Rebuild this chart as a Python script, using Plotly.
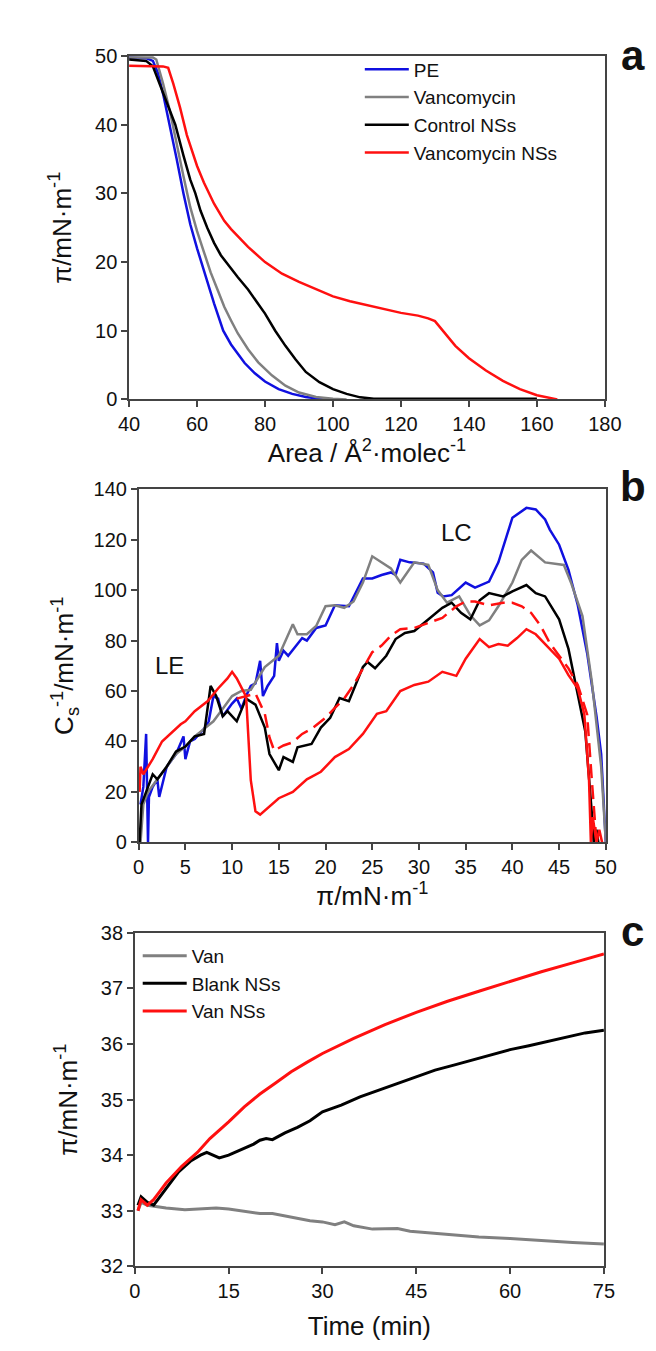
import plotly.graph_objects as go

# ---- panel a: pi-A isotherms ----
pe_area = [40, 45, 47, 48.5, 50, 52, 54, 56, 58, 60, 61.2, 63, 65, 67.7, 70, 74, 77, 80, 84, 88, 92, 96, 100]
pe_pi = [49.8, 49.7, 49.3, 47.5, 44.5, 40, 35, 30, 25.5, 22, 20, 17, 14, 10, 8, 5.3, 3.8, 2.6, 1.5, 0.8, 0.35, 0.1, 0]

van_area = [40, 47, 48, 50, 52, 54, 56, 58, 60, 62, 64, 66, 68, 70, 72, 75, 78, 82, 86, 90, 95, 100, 104]
van_pi = [49.8, 49.8, 49.5, 46, 42, 37, 32.5, 28, 24.5, 21.5, 18.5, 16, 13.5, 11.5, 9.6, 7.3, 5.4, 3.5, 2, 1, 0.35, 0.1, 0]

ctl_area = [40, 45, 47, 49, 51, 53.6, 56, 58, 59.5, 61, 63, 65, 67, 69, 72, 75, 78, 80, 83, 86, 89, 92, 96, 100, 104, 108, 112, 160]
ctl_pi = [49.5, 49.3, 48.5, 46, 43.5, 40, 35.5, 32, 30, 27.5, 25, 22.8, 21, 19.7, 17.8, 16, 14, 12.5, 10, 7.8, 5.8, 4, 2.5, 1.5, 0.8, 0.3, 0.1, 0.1]

vns_area = [40, 50, 51.5, 53, 55, 57, 60, 62, 65, 68, 70, 75, 80, 85, 90, 95, 100, 105, 110, 115, 120, 125, 128, 130,
            133, 136, 140, 145, 150, 155, 160, 166]
vns_pi = [48.6, 48.5, 48.3, 46, 42.5, 38.5, 34, 31.6, 28.5, 26, 24.8, 22.2, 20, 18.3, 17.1, 16, 15, 14.3, 13.7, 13.2,
          12.6, 12.2, 11.8, 11.4, 9.6, 7.8, 6, 4.2, 2.7, 1.5, 0.6, 0]

# ---- panel b: compressional modulus ----
pe_bx = [0.2, 0.5, 0.8, 0.9, 1.0, 1.1, 1.5, 2, 2.2, 3, 4, 4.8, 5, 5.5, 6, 7, 7.5, 8, 8.5, 9, 10, 10.5, 11, 11.5, 12,
         12.5, 13, 13.3, 13.8, 14.5, 14.8, 15, 15.5, 16, 17.5, 18, 19, 20, 21, 22.5, 23.5, 24, 25, 26, 27, 27.5, 28, 29,
         30.5, 31.5, 32, 32.6, 33.5, 35, 36, 37.5, 38.5, 40, 41.5, 42.5, 43.5, 44, 45, 46, 47, 48, 49, 49.5, 50]
pe_by = [15, 22, 43, 20, 0, 18, 22, 25, 18, 30, 35, 42, 33, 40, 41, 45, 48, 58, 57, 50, 55, 57, 53, 58, 62,
         63, 72, 58, 62, 66, 79, 72, 76, 74, 81, 80, 85, 86, 94, 93.6, 101, 104.6, 104.6, 106, 107, 106, 112, 111,
         110.5, 107, 99, 97.5, 98, 103, 101, 103.4, 111, 128.7, 132.6, 132, 128, 124, 118, 108, 94, 75, 50, 35, 0]

van_bx = [0.2, 0.5, 1, 2, 3, 4, 5, 6, 7, 8, 9, 10, 11, 12, 13.5, 15, 16.5, 17, 18, 19, 20, 21, 22, 23, 24, 25, 27,
          28, 29.5, 31, 32, 33, 34.3, 35.5, 36.5, 37.5, 38.5, 40, 41, 42, 43.5, 45.5, 46.3, 47.5, 48.5, 49.5, 50]
van_by = [0, 15, 20, 25, 30, 35, 38, 42, 45, 48, 53, 58, 60, 60.5, 69.5, 74, 86.5, 82.5, 82.5, 85.8, 93.6, 94, 93,
          95.5, 103, 113.4, 108.6, 103, 111, 110, 100, 95, 97.5, 90, 86, 88, 93.6, 103, 112, 115.7, 111, 110, 102.7,
          89.7, 63.7, 30, 0]

ctl_bx = [0.1, 0.3, 1, 1.5, 2, 3, 4, 5, 6, 7, 7.7, 8.3, 9, 9.5, 10.5, 11.5, 12.5, 13.5, 14, 14.5, 15, 15.5, 16.5,
          17, 18.5, 19.5, 20.5, 21.5, 22.5, 24, 24.5, 25.3, 26.5, 27.5, 28.5, 29.5, 31, 32.5, 33.5, 34.5, 35.5, 36.5,
          37.5, 39, 40, 41.5, 42.5, 43.5, 45, 46, 47, 47.8, 48.5, 48.7, 49, 49.2]
ctl_by = [0, 15, 22, 27, 25, 30, 36, 38, 42, 43, 62, 58, 50, 52, 48, 57, 54.6, 45.5, 35, 32, 28.6, 33.8, 31.9,
          37.7, 39, 45.5, 49.4, 57.2, 56, 69.5, 71.5, 69, 74, 80.6, 83, 83.8, 88.4, 93, 95, 91, 88.4, 96,
          98.8, 97.5, 99.5, 102, 98.8, 97.5, 88.4, 76.7, 58.5, 44, 11.7, 0, 5, 0]

vns_bx = [0.1, 0.2, 0.5, 1, 1.5, 2.5, 3.5, 4.5, 5, 6, 7.4, 8.5, 9.5, 10, 10.5, 11.5, 12, 12.5, 13, 14, 15, 16.5, 18,
          19.5, 21, 22.5, 24, 25.5, 26.5, 28, 29.5, 31, 32.5, 34, 35, 36.5, 37.5, 38.5, 39.5, 40.5, 41.5, 42.5, 44, 45,
          46, 47, 47.7, 48.2, 48.4, 48.6, 49, 49.3, 49.6]
vns_by = [20, 30, 27, 30, 33, 40, 43.5, 46.8, 48, 52, 56, 61, 65, 67.6, 65, 57.8, 24.7, 12.3, 11, 14.3, 17.5, 20, 25,
          28, 33.8, 37, 43, 51, 52, 60, 62.4, 63.7, 67.6, 66, 72.8, 80.6, 77.4, 78.6, 78, 81, 84.5, 82.5, 76.7, 72.8,
          66.3, 61, 50.7, 24.7, 0, 10, 0, 5, 0]

dash_bx = [10.5, 11.5, 12.5, 13.5, 14, 14.5, 15.5, 16.5, 17.5, 18.5, 20, 21, 22, 23, 24, 25, 26, 27, 28, 29.5, 31,
           32.5, 34, 35, 36, 37.5, 39, 40, 41, 42, 43, 44, 45, 46, 47, 48, 48.5, 48.8, 49]
dash_by = [57, 58, 59, 51, 41.6, 36.4, 38.4, 39.7, 43, 45, 49.4, 53.3, 57, 62.4, 69, 75.4, 78, 82, 84.5, 85, 87,
           89, 93.6, 95.5, 95.5, 94, 95, 95, 93.6, 91, 86, 79, 74, 69, 62.4, 50.7, 24.7, 11.7, 0]

# ---- panel c: adsorption kinetics ----
van_t = [0.5, 1, 2, 5, 8, 10, 13, 15, 18, 20, 22, 25, 28, 30, 32, 33.5, 35, 38, 40, 42, 44, 47, 50, 55, 60, 65, 70, 75]
van_c = [33.0, 33.15, 33.1, 33.05, 33.02, 33.03, 33.05, 33.03, 32.98, 32.95, 32.95, 32.88, 32.82, 32.8, 32.75, 32.8,
         32.73, 32.67, 32.68, 32.68, 32.63, 32.6, 32.57, 32.53, 32.5, 32.46, 32.43, 32.4]

blank_t = [0.5, 1, 2, 3, 4, 5, 7, 9, 10.5, 11.5, 12.5, 13.5, 15, 17, 19, 20, 21, 22, 24, 26, 28, 30, 33, 36, 39, 42,
           45, 48, 51, 54, 57, 60, 63, 66, 69, 72, 75]
blank_c = [33.1, 33.25, 33.15, 33.1, 33.25, 33.4, 33.7, 33.9, 34.0, 34.05, 34.0, 33.95, 34.0, 34.1, 34.2, 34.27,
           34.3, 34.28, 34.4, 34.5, 34.62, 34.78, 34.9, 35.05, 35.17, 35.3, 35.42, 35.53, 35.62, 35.71, 35.8, 35.9,
           35.97, 36.05, 36.12, 36.2, 36.25]

vanns_t = [0.5, 1, 2, 3, 4, 5, 7.5, 10, 12, 15, 17.5, 20, 22.5, 25, 27.5, 30, 35, 40, 45, 50, 55, 60, 65, 70, 75]
vanns_c = [33.0, 33.2, 33.1, 33.2, 33.35, 33.5, 33.8, 34.05, 34.3, 34.6, 34.87, 35.1, 35.3, 35.5, 35.67, 35.83,
           36.1, 36.35, 36.57, 36.77, 36.95, 37.13, 37.3, 37.46, 37.62]

BLUE = "#1010e0"
GREY = "#808080"
BLACK = "#000000"
RED = "#ff1010"
FONT = "Liberation Sans, Arial, sans-serif"

fig = go.Figure()

# panel a
for x, y, c, n in [(pe_area, pe_pi, BLUE, "PE"), (van_area, van_pi, GREY, "Vancomycin"),
                   (ctl_area, ctl_pi, BLACK, "Control NSs"), (vns_area, vns_pi, RED, "Vancomycin NSs")]:
    fig.add_trace(go.Scatter(x=x, y=y, mode="lines", name=n, line=dict(color=c, width=2.5),
                             xaxis="x", yaxis="y", legend="legend"))

# panel b
for x, y, c in [(pe_bx, pe_by, BLUE), (van_bx, van_by, GREY), (ctl_bx, ctl_by, BLACK), (vns_bx, vns_by, RED)]:
    fig.add_trace(go.Scatter(x=x, y=y, mode="lines", showlegend=False, line=dict(color=c, width=2.5),
                             xaxis="x2", yaxis="y2"))
fig.add_trace(go.Scatter(x=dash_bx, y=dash_by, mode="lines", showlegend=False,
                         line=dict(color=RED, width=2.5, dash="14px,7px"), xaxis="x2", yaxis="y2"))

# panel c
for x, y, c, n in [(van_t, van_c, GREY, "Van"), (blank_t, blank_c, BLACK, "Blank NSs"),
                   (vanns_t, vanns_c, RED, "Van NSs")]:
    fig.add_trace(go.Scatter(x=x, y=y, mode="lines", name=n, line=dict(color=c, width=3),
                             xaxis="x3", yaxis="y3", legend="legend2"))

W, H = 656, 1351


def xd(l, r):
    return [l / W, r / W]


def yd(t, b):
    return [1 - b / H, 1 - t / H]


ax = dict(showgrid=False, zeroline=False, showline=True, mirror=True, linecolor="#444", linewidth=1.5,
          ticks="outside", ticklen=6, tickwidth=1.5, tickcolor="#444",
          tickfont=dict(size=20, color="#111"), title_font=dict(size=26, color="#111"))

fig.update_layout(
    width=W, height=H, margin=dict(l=0, r=0, t=0, b=0),
    paper_bgcolor="white", plot_bgcolor="white",
    font=dict(family=FONT, color="#111"),
    xaxis=dict(ax, domain=xd(115, 612), range=[40, 180], dtick=20, anchor="y",
               title=dict(text="Area / Å<sup>2</sup>·molec<sup>-1</sup>", standoff=2)),
    yaxis=dict(ax, domain=yd(37.7, 386.7), range=[0, 50], dtick=10, anchor="x",
               title=dict(text="π/mN·m<sup>-1</sup>", standoff=16)),
    xaxis2=dict(ax, domain=xd(125, 613), range=[0, 50], dtick=5, anchor="y2",
                title=dict(text="π/mN·m<sup>-1</sup>", standoff=0)),
    yaxis2=dict(ax, domain=yd(478, 837), range=[0, 140], dtick=20, anchor="x2",
                title=dict(text="C<sub>s</sub><sup>-1</sup>/mN·m<sup>-1</sup>", standoff=12)),
    xaxis3=dict(ax, domain=xd(121, 611), range=[0, 75], dtick=15, anchor="y3",
                title=dict(text="Time (min)", standoff=16)),
    yaxis3=dict(ax, domain=yd(929, 1268), range=[32, 38], dtick=1, anchor="x3",
                title=dict(text="π/mN·m<sup>-1</sup>", standoff=16)),
    legend=dict(x=356 / W, y=1 - 32 / H, xanchor="left", yanchor="top", font=dict(size=19),
                itemwidth=44, bgcolor="rgba(0,0,0,0)", tracegroupgap=0),
    legend2=dict(x=124 / W, y=1 - 933 / H, xanchor="left", yanchor="top", font=dict(size=19),
                 itemwidth=44, bgcolor="rgba(0,0,0,0)", tracegroupgap=0),
    showlegend=True,
)

for txt, yy in [("a", 37), ("b", 475), ("c", 928)]:
    fig.add_annotation(text="<b>%s</b>" % txt, x=641 / W, y=1 - yy / H, xref="paper", yref="paper",
                       showarrow=False, font=dict(size=42, color="#111"), xanchor="center", yanchor="middle")

fig.add_annotation(text="LE", x=3.3, y=70, xref="x2", yref="y2", showarrow=False, font=dict(size=24))
fig.add_annotation(text="LC", x=34, y=123, xref="x2", yref="y2", showarrow=False, font=dict(size=24))

fig.write_html("out.html")
